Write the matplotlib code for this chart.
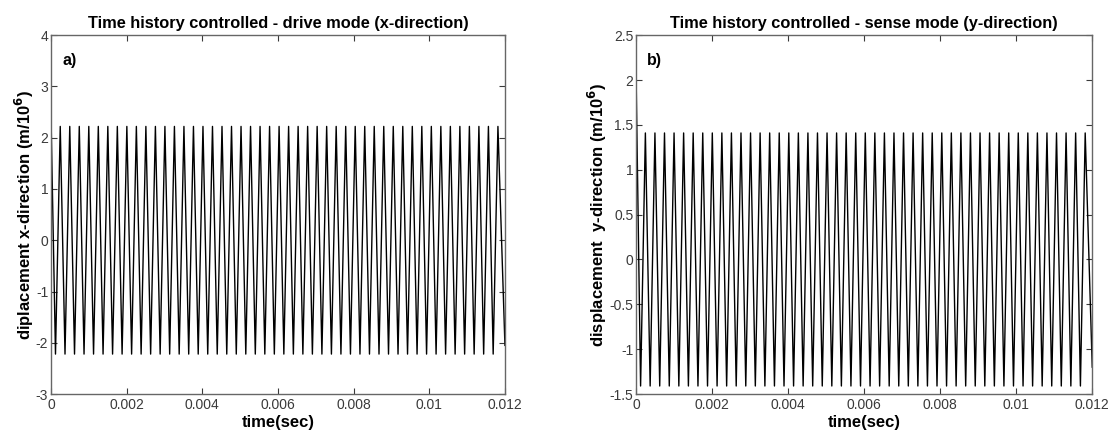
import numpy as np
import matplotlib
matplotlib.use("Agg")
import matplotlib.pyplot as plt

# --- data ------------------------------------------------------------------
# each trace: start value at t=0, then successive extrema (trough, peak, ...)
# spaced by half a period, then the value where the trace is cut at t=0.012
half_period = 0.00012575      # s  (about 48 cycles in 12 ms)
first_extremum_t = 0.00012    # s
t_end = 0.012

drive_start = 2.48
drive_extrema = [
    -2.22, 2.22, -2.22, 2.22, -2.22, 2.22, -2.22, 2.22, -2.22, 2.22,
    -2.22, 2.22, -2.22, 2.22, -2.22, 2.22, -2.22, 2.22, -2.22, 2.22,
    -2.22, 2.22, -2.22, 2.22, -2.22, 2.22, -2.22, 2.22, -2.22, 2.22,
    -2.22, 2.22, -2.22, 2.22, -2.22, 2.22, -2.22, 2.22, -2.22, 2.22,
    -2.22, 2.22, -2.22, 2.22, -2.22, 2.22, -2.22, 2.22, -2.22, 2.22,
    -2.22, 2.22, -2.22, 2.22, -2.22, 2.22, -2.22, 2.22, -2.22, 2.22,
    -2.22, 2.22, -2.22, 2.22, -2.22, 2.22, -2.22, 2.22, -2.22, 2.22,
    -2.22, 2.22, -2.22, 2.22, -2.22, 2.22, -2.22, 2.22, -2.22, 2.22,
    -2.22, 2.22, -2.22, 2.22, -2.22, 2.22, -2.22, 2.22, -2.22, 2.22,
    -2.22, 2.22, -2.22, 2.22,
]
drive_last = -2.05

sense_start = 2.09
sense_extrema = [
    -1.41, 1.41, -1.41, 1.41, -1.41, 1.41, -1.41, 1.41, -1.41, 1.41,
    -1.41, 1.41, -1.41, 1.41, -1.41, 1.41, -1.41, 1.41, -1.41, 1.41,
    -1.41, 1.41, -1.41, 1.41, -1.41, 1.41, -1.41, 1.41, -1.41, 1.41,
    -1.41, 1.41, -1.41, 1.41, -1.41, 1.41, -1.41, 1.41, -1.41, 1.41,
    -1.41, 1.41, -1.41, 1.41, -1.41, 1.41, -1.41, 1.41, -1.41, 1.41,
    -1.41, 1.41, -1.41, 1.41, -1.41, 1.41, -1.41, 1.41, -1.41, 1.41,
    -1.41, 1.41, -1.41, 1.41, -1.41, 1.41, -1.41, 1.41, -1.41, 1.41,
    -1.41, 1.41, -1.41, 1.41, -1.41, 1.41, -1.41, 1.41, -1.41, 1.41,
    -1.41, 1.41, -1.41, 1.41, -1.41, 1.41, -1.41, 1.41, -1.41, 1.41,
    -1.41, 1.41, -1.41, 1.41,
]
sense_last = -1.2

x_ticks = [0, 0.002, 0.004, 0.006, 0.008, 0.01, 0.012]
x_ticklabels = ["0", "0.002", "0.004", "0.006", "0.008", "0.01", "0.012"]
a_yticks = [-3, -2, -1, 0, 1, 2, 3, 4]
a_yticklabels = ["-3", "-2", "-1", "0", "1", "2", "3", "4"]
b_yticks = [-1.5, -1, -0.5, 0, 0.5, 1, 1.5, 2, 2.5]
b_yticklabels = ["-1.5", "-1", "-0.5", "0", "0.5", "1", "1.5", "2", "2.5"]


def trace(start, extrema, last):
    t_ext = first_extremum_t + half_period * np.arange(len(extrema))
    t = np.concatenate([[0.0], t_ext, [t_end]])
    y = np.concatenate([[start], extrema, [last]])
    return t, y


plt.rcParams['font.family'] = ['Liberation Sans', 'DejaVu Sans']

fig = plt.figure(figsize=(11.1, 4.34), dpi=100)
ax_a = fig.add_axes([0.0459, 0.092, 0.409, 0.827])
ax_b = fig.add_axes([0.573, 0.092, 0.411, 0.827])

panels = [
    (ax_a, trace(drive_start, drive_extrema, drive_last), a_yticks, a_yticklabels,
     "Time history controlled - drive mode (x-direction)",
     "diplacement x-direction (m/10$^{\\mathbf{6}}$)", "a)"),
    (ax_b, trace(sense_start, sense_extrema, sense_last), b_yticks, b_yticklabels,
     "Time history controlled - sense mode (y-direction)",
     "displacement  y-direction (m/10$^{\\mathbf{6}}$)", "b)"),
]

for ax, (t, y), yt, ytl, title, ylab, tag in panels:
    ax.plot(t, y, color='black', lw=1.0)
    ax.set_xlim(0, 0.012)
    ax.set_ylim(yt[0], yt[-1])
    ax.set_xticks(x_ticks)
    ax.set_xticklabels(x_ticklabels)
    ax.set_yticks(yt)
    ax.set_yticklabels(ytl)
    ax.tick_params(direction='in', top=True, right=True, length=4, width=0.8,
                   labelsize=10, colors='#3a3a3a', pad=3)
    ax.tick_params(axis='y', pad=2)
    for sp in ax.spines.values():
        sp.set_color('#666666')
        sp.set_linewidth(1.0)
    ax.set_title(title, fontsize=11.8, fontweight='bold', pad=5)
    ax.set_xlabel("time(sec)", fontsize=12, fontweight='bold', labelpad=2)
    ax.set_ylabel(ylab, fontsize=12, fontweight='bold', labelpad=0)
    ax.text(0.025, 0.95, tag, transform=ax.transAxes, fontsize=11.5,
            fontweight='bold', va='top', ha='left')

fig.savefig("out.png", dpi=100)
